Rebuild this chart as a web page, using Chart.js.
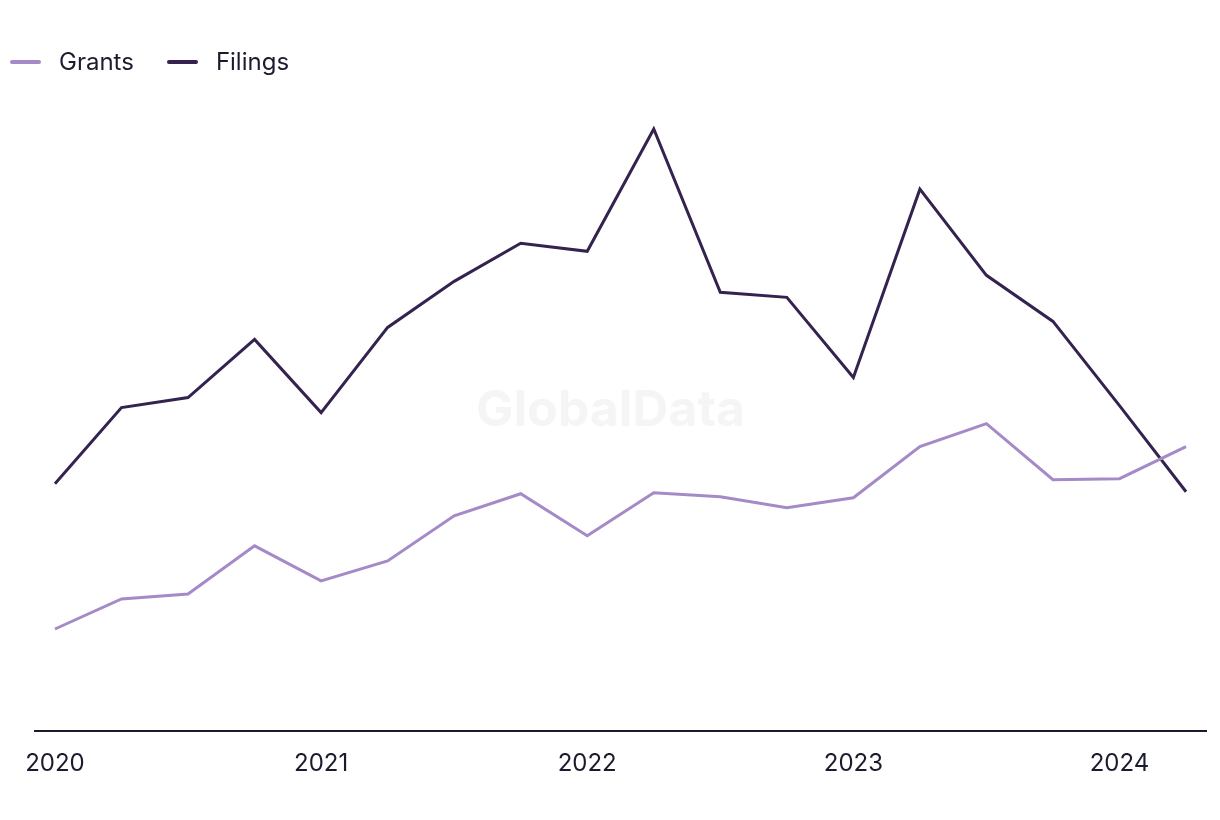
<!DOCTYPE html>
<html>
<head>
<meta charset="utf-8">
<style>
  html, body { margin: 0; padding: 0; background: #ffffff; }
  #wrap { position: relative; width: 1220px; height: 820px; }
  #legend { position: absolute; left: 10px; top: 46px; display: flex; font: 24px Inter, "Liberation Sans", sans-serif; color: #1b1b2e; }
  #legend .item { display: flex; align-items: center; margin-right: 33px; line-height: 32px; }
  #legend .swatch { width: 31px; height: 4px; border-radius: 2px; margin-right: 18px; }
</style>
<script src="https://cdn.jsdelivr.net/npm/chart.js@4/dist/chart.umd.min.js"></script>
</head>
<body>
<div id="wrap">
  <canvas id="chart" width="1220" height="820"></canvas>
  <div id="legend"></div>
</div>
<script>
// quarterly series, Q1 2020 .. Q2 2024 (no y scale shown, values read relative to the axis)
const QUARTERS = ['Q1 2020', 'Q2 2020', 'Q3 2020', 'Q4 2020', 'Q1 2021', 'Q2 2021', 'Q3 2021', 'Q4 2021',
    'Q1 2022', 'Q2 2022', 'Q3 2022', 'Q4 2022', 'Q1 2023', 'Q2 2023', 'Q3 2023', 'Q4 2023', 'Q1 2024', 'Q2 2024'];
const GRANTS = [102, 132, 137, 185, 150, 170, 215, 237, 195, 238, 234, 223, 233, 284, 307, 251, 252, 284];
const FILINGS = [247, 323, 333, 391, 318, 403, 449, 487, 479, 601, 438, 433, 353, 541, 455, 409, 325, 239];
const YEAR_TICKS = [0, 4, 8, 12, 16];
const YEAR_LABELS = ['2020', '2021', '2022', '2023', '2024'];

const TEXT = '#1b1b2e';
const FONT = 'Inter, "Liberation Sans", sans-serif';

const points = (vals) => vals.map((v, i) => ({ x: i, y: v }));

// faint brand watermark in the middle of the plot
const watermark = {
    id: 'watermark',
    beforeDatasetsDraw(chart) {
        const { ctx, chartArea } = chart;
        ctx.save();
        ctx.font = `bold 50px ${FONT}`;
        ctx.fillStyle = '#f5f5f5';
        ctx.textAlign = 'center';
        ctx.textBaseline = 'middle';
        ctx.fillText('GlobalData', (chartArea.left + chartArea.right) / 2 - 10, 411);
        ctx.restore();
    },
};

const chart = new Chart(document.getElementById('chart'), {
    type: 'line',
    data: {
        datasets: [
            {
                label: 'Grants',
                data: points(GRANTS),
                borderColor: '#a48bc7',
                backgroundColor: '#a48bc7',
                borderWidth: 3,
                pointRadius: 0,
                tension: 0,
            },
            {
                label: 'Filings',
                data: points(FILINGS),
                borderColor: '#34224f',
                backgroundColor: '#34224f',
                borderWidth: 3,
                pointRadius: 0,
                tension: 0,
            },
        ],
    },
    options: {
        responsive: false,
        animation: false,
        layout: { padding: { left: 35, right: 14, top: 100, bottom: 32 } },
        plugins: {
            legend: { display: false },
            tooltip: { enabled: false },
        },
        scales: {
            x: {
                type: 'linear',
                min: -0.3,
                max: QUARTERS.length - 0.7,
                afterBuildTicks(scale) {
                    scale.ticks = YEAR_TICKS.map((v) => ({ value: v }));
                },
                afterFit(scale) {
                    scale.paddingLeft = 0;
                    scale.paddingRight = 0;
                },
                ticks: {
                    color: TEXT,
                    padding: 10,
                    maxRotation: 0,
                    autoSkip: false,
                    font: { family: FONT, size: 24 },
                    callback: (v) => YEAR_LABELS[YEAR_TICKS.indexOf(v)] ?? '',
                },
                grid: { display: false },
                border: { display: true, color: TEXT, width: 2 },
            },
            y: {
                display: false,
                min: 0,
                max: 630,
            },
        },
    },
    plugins: [watermark],
});

// html legend built from the datasets
document.getElementById('legend').innerHTML = chart.data.datasets.map((ds) =>
    `<div class="item"><span class="swatch" style="background:${ds.borderColor}"></span>${ds.label}</div>`).join('');
</script>
</body>
</html>
